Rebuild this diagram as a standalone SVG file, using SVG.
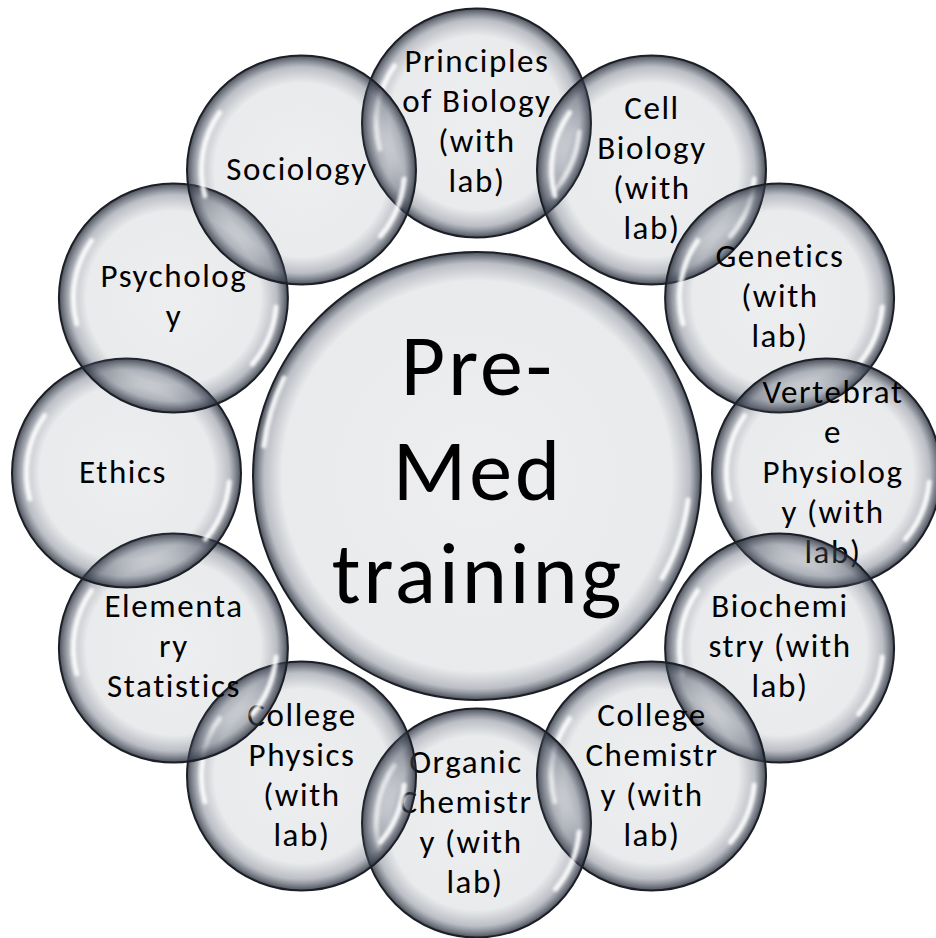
<svg xmlns="http://www.w3.org/2000/svg" xmlns:xlink="http://www.w3.org/1999/xlink" width="936" height="938" viewBox="0 0 936 938">
<defs>
<radialGradient id="bub" cx="50%" cy="50%" r="50%">
<stop offset="0" stop-color="#4d5566" stop-opacity="0.1"/>
<stop offset="0.76" stop-color="#4d5566" stop-opacity="0.12"/>
<stop offset="0.9" stop-color="#4d5566" stop-opacity="0.38"/>
<stop offset="1" stop-color="#2a303c" stop-opacity="0.85"/>
</radialGradient>
<radialGradient id="bubC" cx="50%" cy="50%" r="50%">
<stop offset="0" stop-color="#4d5566" stop-opacity="0.1"/>
<stop offset="0.87" stop-color="#4d5566" stop-opacity="0.12"/>
<stop offset="0.95" stop-color="#4d5566" stop-opacity="0.38"/>
<stop offset="1" stop-color="#2a303c" stop-opacity="0.85"/>
</radialGradient>
<filter id="soft" x="-20%" y="-20%" width="140%" height="140%"><feGaussianBlur stdDeviation="1.4"/></filter>
<g id="hl">
<path d="M -96.6 25.9 A 100 100 0 0 1 -81.9 -57.4"/>
<path d="M 102.6 9 A 103 103 0 0 1 78.9 66.2"/>
</g>
</defs>
<style>
.b{fill:url(#bub);stroke:#1c1f26;stroke-width:2}
.c{fill:url(#bubC);stroke:#1c1f26;stroke-width:2}
.h{fill:none;stroke:#ffffff;stroke-width:5;stroke-linecap:round;opacity:0.9;filter:url(#soft)}
text{font-family:Carlito,Lato,"Noto Sans",sans-serif;fill:#000;text-anchor:middle}
.t{font-size:33px;letter-spacing:1.6px}
.m{font-size:86px;letter-spacing:3px}
</style>
<rect width="936" height="938" fill="#ffffff"/>
<g id="center">
<circle class="c" cx="477" cy="476" r="224"/>
<g class="h"><path d="M 264 446 A 215 215 0 0 1 284 378"/><path d="M 688 500 A 213 213 0 0 1 662 578"/></g>
<text class="m" x="478" y="395">Pre-</text>
<text class="m" x="478" y="500">Med</text>
<text class="m" x="478" y="603">training</text>
</g>
<g id="principles">
<circle class="b" cx="476.5" cy="123" r="114.5"/>
<use href="#hl" class="h" x="476.5" y="123"/>
<text class="t" x="477" y="72">Principles</text>
<text class="t" x="477" y="112">of Biology</text>
<text class="t" x="477" y="152">(with</text>
<text class="t" x="477" y="192">lab)</text>
</g>
<g id="cell">
<circle class="b" cx="651.5" cy="170" r="114.5"/>
<use href="#hl" class="h" x="651.5" y="170"/>
<text class="t" x="652" y="119">Cell</text>
<text class="t" x="652" y="159">Biology</text>
<text class="t" x="652" y="199">(with</text>
<text class="t" x="652" y="239">lab)</text>
</g>
<g id="genetics">
<circle class="b" cx="779.6" cy="298" r="114.5"/>
<use href="#hl" class="h" x="779.6" y="298"/>
<text class="t" x="780" y="267">Genetics</text>
<text class="t" x="780" y="307">(with</text>
<text class="t" x="780" y="347">lab)</text>
</g>
<g id="vertebrate">
<circle class="b" cx="826.5" cy="473" r="114.5"/>
<use href="#hl" class="h" x="826.5" y="473"/>
<text class="t" x="833" y="403">Vertebrat</text>
<text class="t" x="833" y="443">e</text>
<text class="t" x="833" y="483">Physiolog</text>
<text class="t" x="833" y="523">y (with</text>
<text class="t" x="833" y="563">lab)</text>
</g>
<g id="biochemistry">
<circle class="b" cx="779.6" cy="648" r="114.5"/>
<use href="#hl" class="h" x="779.6" y="648"/>
<text class="t" x="780" y="617">Biochemi</text>
<text class="t" x="780" y="657">stry (with</text>
<text class="t" x="780" y="697">lab)</text>
</g>
<g id="college-chemistry">
<circle class="b" cx="651.5" cy="776" r="114.5"/>
<use href="#hl" class="h" x="651.5" y="776"/>
<text class="t" x="652" y="726">College</text>
<text class="t" x="652" y="766">Chemistr</text>
<text class="t" x="652" y="806">y (with</text>
<text class="t" x="652" y="846">lab)</text>
</g>
<g id="organic-chemistry">
<circle class="b" cx="476.5" cy="823" r="114.5"/>
<use href="#hl" class="h" x="476.5" y="823"/>
<text class="t" x="466" y="773">Organic</text>
<text class="t" x="466" y="813">Chemistr</text>
<text class="t" x="471" y="853">y (with</text>
<text class="t" x="475" y="893">lab)</text>
</g>
<g id="college-physics">
<circle class="b" cx="301.5" cy="776" r="114.5"/>
<use href="#hl" class="h" x="301.5" y="776"/>
<text class="t" x="302" y="726">College</text>
<text class="t" x="302" y="766">Physics</text>
<text class="t" x="302" y="806">(with</text>
<text class="t" x="302" y="846">lab)</text>
</g>
<g id="statistics">
<circle class="b" cx="173.4" cy="648" r="114.5"/>
<use href="#hl" class="h" x="173.4" y="648"/>
<text class="t" x="174" y="617">Elementa</text>
<text class="t" x="174" y="657">ry</text>
<text class="t" x="174" y="697">Statistics</text>
</g>
<g id="ethics">
<circle class="b" cx="126.5" cy="473" r="114.5"/>
<use href="#hl" class="h" x="126.5" y="473"/>
<text class="t" x="123" y="483">Ethics</text>
</g>
<g id="psychology">
<circle class="b" cx="173.4" cy="298" r="114.5"/>
<use href="#hl" class="h" x="173.4" y="298"/>
<text class="t" x="174" y="287">Psycholog</text>
<text class="t" x="174" y="327">y</text>
</g>
<g id="sociology">
<circle class="b" cx="301.5" cy="170" r="114.5"/>
<use href="#hl" class="h" x="301.5" y="170"/>
<text class="t" x="297" y="180">Sociology</text>
</g>
<g id="connectors"/>
</svg>
